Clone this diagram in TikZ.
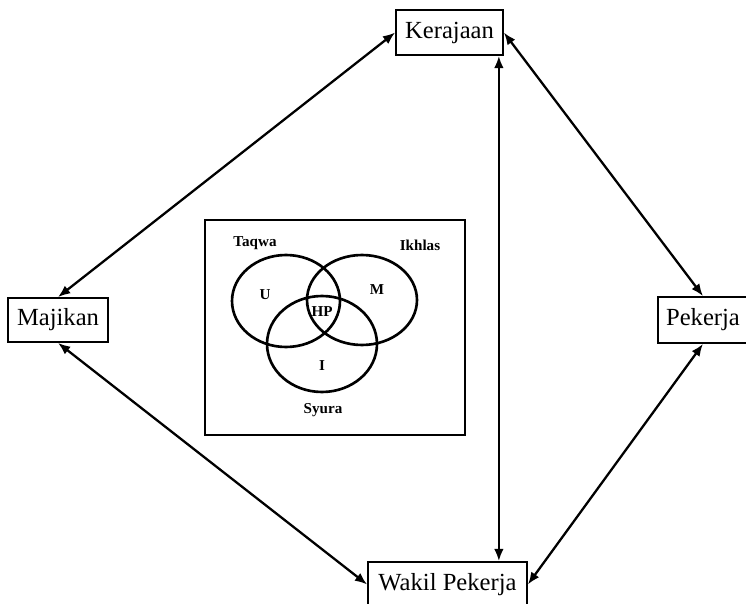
\documentclass[tikz,border=0pt]{standalone}
\usepackage{fontspec}
\setmainfont{Liberation Serif}
\usetikzlibrary{arrows.meta}
\begin{document}
\begin{tikzpicture}[x=0.02cm,y=-0.02cm,
  boxnode/.style={draw,line width=1pt,inner sep=0pt,font=\fontsize{14}{16}\selectfont},
  arr/.style={line width=1.3pt,{Latex[length=7pt,width=5.5pt]}-{Latex[length=7pt,width=5.5pt]}},
  venn/.style={line width=1.5pt},
  vlabel/.style={font=\fontsize{8.6}{10}\selectfont\bfseries,inner sep=0pt}]
\useasboundingbox (0,0) rectangle (746,604);
\node[boxnode,minimum width=2.14cm,minimum height=0.9cm] (ker) at (449.5,32.5) {Kerajaan};
\node[boxnode,minimum width=2.0cm,minimum height=0.88cm] (maj) at (58,320) {Majikan};
\node[boxnode,minimum width=1.8cm,minimum height=0.92cm] (pek) at (703,320) {Pekerja};
\node[boxnode,minimum width=3.18cm,minimum height=0.9cm] (wak) at (447.5,584.5) {Wakil Pekerja};
% inner frame
\node[draw,line width=1.3pt,minimum width=5.2cm,minimum height=4.3cm,inner sep=0pt] (frame) at (335,327.5) {};
% venn circles
\draw[venn] (286,301) ellipse [x radius=1.08cm, y radius=0.92cm];
\draw[venn] (362,300) ellipse [x radius=1.1cm, y radius=0.9cm];
\draw[venn] (322,344) ellipse [x radius=1.1cm, y radius=0.96cm];
\node[vlabel] (taqwa) at (255,243) {Taqwa};
\node[vlabel] (ikhlas) at (420,245) {Ikhlas};
\node[vlabel] (u) at (265,295) {U};
\node[vlabel] (m) at (377,290) {M};
\node[vlabel] (hp) at (322,312) {HP};
\node[vlabel] (i) at (322,366) {I};
\node[vlabel] (syura) at (323,410) {Syura};
% connectors
\draw[arr] (ker.west) -- (maj.north);
\draw[arr] (ker.east) -- (pek.north);
\draw[arr] (maj.south) -- (wak.west);
\draw[arr] (pek.south) -- (wak.east);
\draw[arr] ([xshift=-0.1cm]ker.south east) -- ([xshift=-0.1cm]ker.south east |- wak.north);
\end{tikzpicture}
\end{document}
